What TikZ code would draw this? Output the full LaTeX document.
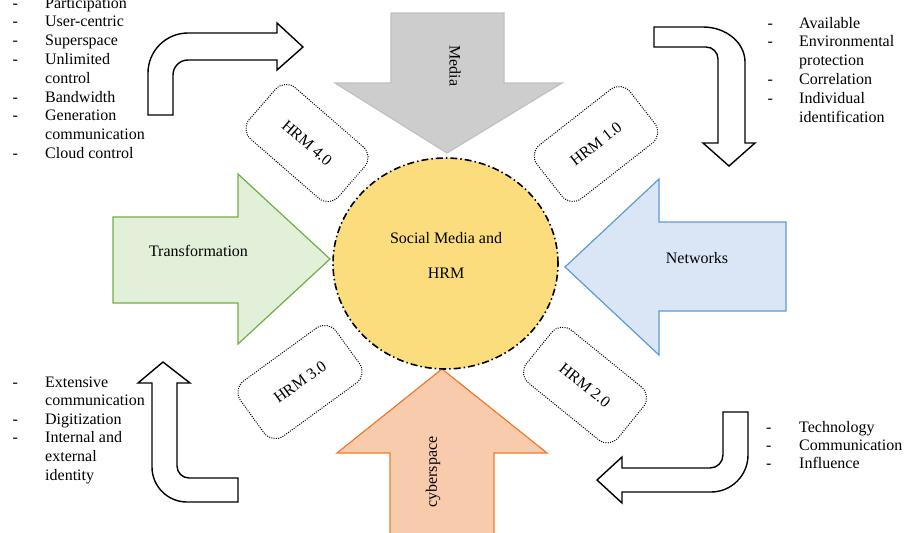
\documentclass[tikz,border=0pt]{standalone}
\usepackage{fontspec}
\setmainfont{Liberation Serif}
\usetikzlibrary{shapes.geometric}
\definecolor{grayfill}{RGB}{205,205,205}
\definecolor{grayline}{RGB}{192,192,192}
\definecolor{greenfill}{RGB}{226,239,217}
\definecolor{greenline}{RGB}{112,173,71}
\definecolor{bluefill}{RGB}{218,230,246}
\definecolor{blueline}{RGB}{91,155,213}
\definecolor{orangefill}{RGB}{248,203,173}
\definecolor{orangeline}{RGB}{237,125,49}
\definecolor{coreyellow}{RGB}{251,221,125}
\begin{document}
\begin{tikzpicture}[x=1pt,y=-1pt,
  txt/.style={font=\fontsize{16}{18.8}\selectfont, inner sep=0pt},
  hrmbox/.style={draw, dash pattern=on 1pt off 1.3pt, line width=1pt, rounded corners=14pt,
    minimum width=118pt, minimum height=68pt, inner sep=0pt,
    font=\fontsize{16}{19}\selectfont},
  bigarrow/.style={line width=1.2pt, line join=miter},
  bentarrow/.style={draw=black, fill=white, line width=1.4pt, line join=miter},
  listnode/.style={txt, anchor=base west}]
\useasboundingbox (0,0) rectangle (908,533);

% big coloured arrows
\draw[bigarrow, fill=grayfill, draw=grayline]
  (391,13) -- (504,13) -- (504,83) -- (562,83) -- (447,153) -- (335,83) -- (391,83) -- cycle;
\draw[bigarrow, fill=greenfill, draw=greenline]
  (113,217) -- (238,217) -- (238,174) -- (330,259) -- (238,344) -- (238,303) -- (113,303) -- cycle;
\draw[bigarrow, fill=bluefill, draw=blueline]
  (786,222) -- (659,222) -- (659,179) -- (565,267) -- (659,355) -- (659,311) -- (786,311) -- cycle;
\draw[bigarrow, fill=orangefill, draw=orangeline]
  (390,540) -- (390,453) -- (337,453) -- (442,369) -- (547,453) -- (494,453) -- (494,540);

\node[txt, rotate=-90] (medialbl) at (455,66) {Media};
\node[txt] (translbl) at (198.5,251) {Transformation};
\node[txt] (netlbl) at (697,258) {Networks};
\node[txt, rotate=90] (cyberlbl) at (433,472) {cyberspace};

% central circle
\node[draw, ellipse, fill=coreyellow, line width=1.6pt,
  dash pattern=on 7pt off 3pt on 1.5pt off 3pt,
  minimum width=225pt, minimum height=211pt] (core) at (445.5,263.5) {};
\node[txt] (coretop) at (446,238) {Social Media and};
\node[txt] (corebot) at (446,273) {HRM};

% HRM boxes
\node[hrmbox, rotate=-41] (hrm4) at (307,143) {HRM 4.0};
\node[hrmbox, rotate=38] (hrm1) at (596,144) {HRM 1.0};
\node[hrmbox, rotate=36] (hrm3) at (300,382) {HRM 3.0};
\node[hrmbox, rotate=-39] (hrm2) at (585,385) {HRM 2.0};

% bent arrows
\draw[bentarrow] (148,115) -- (148,73) arc[start angle=180,end angle=270,radius=40]
  -- (277,33) -- (277,23) -- (303,47) -- (277,70) -- (277,60) -- (188,60)
  arc[start angle=270,end angle=180,radius=15] -- (173,115) -- cycle;
\draw[bentarrow] (654,27) -- (703,27) arc[start angle=270,end angle=360,x radius=42,y radius=35]
  -- (745,143) -- (755,143) -- (729,166) -- (703,143) -- (718,143) -- (718,59)
  arc[start angle=0,end angle=-90,radius=12] -- (654,47) -- cycle;
\draw[bentarrow] (163,362) -- (190,383) -- (177,383) -- (177,466)
  arc[start angle=180,end angle=90,radius=12] -- (238,478) -- (238,502) -- (187,502)
  arc[start angle=90,end angle=180,radius=35] -- (152,383) -- (138,383) -- cycle;
\draw[bentarrow] (723,412) -- (748,412) -- (748,455) arc[start angle=0,end angle=90,radius=37]
  -- (622,492) -- (622,503) -- (597,480) -- (622,457) -- (622,468) -- (710,468)
  arc[start angle=90,end angle=0,radius=13] -- cycle;

% lists
\node[listnode] (listtl) at (12.5,8) {\begin{tabular}[t]{@{}p{32.5pt}@{}l@{}}
-&Participation\\ -&User-centric\\ -&Superspace\\ -&Unlimited\\ &control\\
-&Bandwidth\\ -&Generation\\ &communication\\ -&Cloud control\end{tabular}};
\node[listnode] (listtr) at (767.5,28) {\begin{tabular}[t]{@{}p{31.5pt}@{}l@{}}
-&Available\\ -&Environmental\\ &protection\\ -&Correlation\\ -&Individual\\ &identification\end{tabular}};
\node[listnode, font=\fontsize{16}{18.6}\selectfont] (listbl) at (12.5,387) {\begin{tabular}[t]{@{}p{32.5pt}@{}l@{}}
-&Extensive\\ &communication\\ -&Digitization\\ -&Internal and\\ &external\\ &identity\end{tabular}};
\node[listnode, font=\fontsize{16}{18}\selectfont] (listbr) at (766,432) {\begin{tabular}[t]{@{}p{33pt}@{}l@{}}
-&Technology\\ -&Communication\\ -&Influence\end{tabular}};
\end{tikzpicture}
\end{document}
